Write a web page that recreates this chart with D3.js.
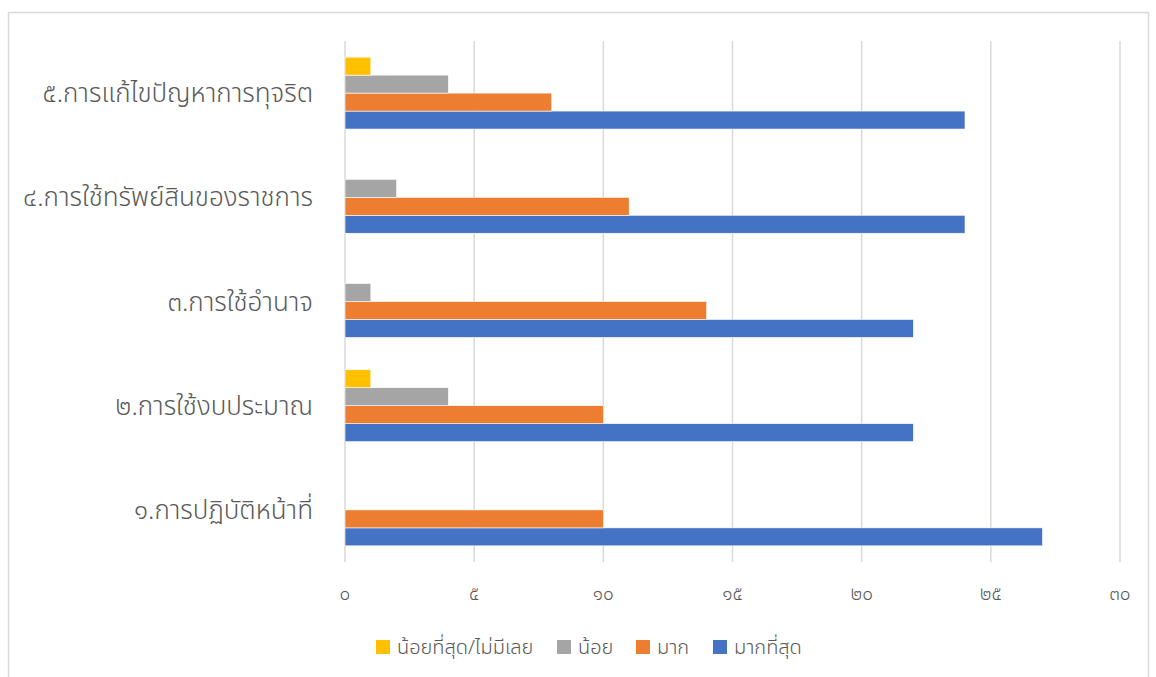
<!DOCTYPE html>
<html>
<head>
<meta charset="utf-8">
<script src="https://cdn.jsdelivr.net/npm/d3@7"></script>
<style>
  body { margin: 0; background: #fff; }
  text { font-family: "Noto Sans Thai", "Leelawadee UI", "Noto Sans", sans-serif; }
</style>
</head>
<body>
<div id="chart"></div>
<script>
const categories = ["๑.การปฏิบัติหน้าที่", "๒.การใช้งบประมาณ", "๓.การใช้อำนาจ", "๔.การใช้ทรัพย์สินของราชการ", "๕.การแก้ไขปัญหาการทุจริต"];
const seriesNames = ["มากที่สุด", "มาก", "น้อย", "น้อยที่สุด/ไม่มีเลย"];
const mostValues = [27, 22, 22, 24, 24];
const muchValues = [10, 10, 14, 11, 8];
const lessValues = [0, 4, 1, 2, 4];
const leastValues = [0, 1, 0, 0, 1];
const tickValues = [0, 5, 10, 15, 20, 25, 30];
const tickLabels = ["๐", "๕", "๑๐", "๑๕", "๒๐", "๒๕", "๓๐"];
const colors = ["#4472C4", "#ED7D31", "#A5A5A5", "#FFC000"];

const totalWidth = 1156;
const totalHeight = 677;
const plot = { left: 345, right: 1120, top: 41, bottom: 562 };

const seriesValues = [mostValues, muchValues, lessValues, leastValues];

const svg = d3.select("#chart")
	.append("svg")
	.attr("width", totalWidth)
	.attr("height", totalHeight);

// chart border
svg.append("rect")
	.attr("x", 8.5)
	.attr("y", 12.5)
	.attr("width", 1140)
	.attr("height", 680)
	.attr("fill", "none")
	.attr("stroke", "#D9D9D9")
	.attr("stroke-width", 1.5);

const xScale = d3.scaleLinear().domain([0, 30]).range([plot.left, plot.right]);

// categories from bottom (1) to top (5)
const yScale = d3.scaleBand()
	.domain(categories)
	.range([plot.bottom, plot.top])
	.paddingInner(0.31)
	.paddingOuter(0.155);

// inner band: series from bottom (มากที่สุด) to top
const ySub = d3.scaleBand()
	.domain(d3.range(seriesNames.length))
	.range([yScale.bandwidth(), 0]);

// gridlines
svg.append("g")
	.selectAll("line")
	.data(tickValues)
	.join("line")
	.attr("x1", (d) => xScale(d))
	.attr("x2", (d) => xScale(d))
	.attr("y1", plot.top)
	.attr("y2", plot.bottom)
	.attr("stroke", "#D9D9D9")
	.attr("stroke-width", 1.5);

// bars
const groups = svg.append("g")
	.selectAll("g")
	.data(categories)
	.join("g")
	.attr("transform", (d) => "translate(0," + yScale(d) + ")");

groups.selectAll("rect")
	.data((d, i) => seriesValues.map((vals, s) => ({ s: s, v: vals[i] })))
	.join("rect")
	.attr("x", xScale(0))
	.attr("y", (d) => ySub(d.s))
	.attr("width", (d) => xScale(d.v) - xScale(0))
	.attr("height", ySub.bandwidth())
	.attr("fill", (d) => colors[d.s])
	.attr("stroke", "#fff")
	.attr("stroke-width", 0.6);

// category labels
svg.append("g")
	.selectAll("text")
	.data(categories)
	.join("text")
	.attr("x", 313)
	.attr("y", (d) => yScale(d) + yScale.bandwidth() / 2)
	.attr("dy", "0.35em")
	.attr("text-anchor", "end")
	.attr("fill", "#595959")
	.attr("font-size", 26)
	.attr("font-weight", 300)
	.text((d) => d);

// x tick labels
svg.append("g")
	.selectAll("text")
	.data(tickValues)
	.join("text")
	.attr("x", (d) => xScale(d))
	.attr("y", 593)
	.attr("dy", "0.35em")
	.attr("text-anchor", "middle")
	.attr("fill", "#595959")
	.attr("font-size", 19)
	.attr("font-weight", 300)
	.text((d, i) => tickLabels[i]);

// legend
const legendOrder = [3, 2, 1, 0];
const legendX = [376, 557, 636, 713];
const legend = svg.append("g")
	.selectAll("g")
	.data(legendOrder)
	.join("g")
	.attr("transform", (d, i) => "translate(" + legendX[i] + ",647)");

legend.append("rect")
	.attr("x", 0)
	.attr("y", -7)
	.attr("width", 14)
	.attr("height", 14)
	.attr("fill", (d) => colors[d]);

legend.append("text")
	.attr("x", 21)
	.attr("y", 0)
	.attr("dy", "0.35em")
	.attr("fill", "#595959")
	.attr("font-size", 20)
	.attr("font-weight", 300)
	.text((d) => seriesNames[d]);
</script>
</body>
</html>
